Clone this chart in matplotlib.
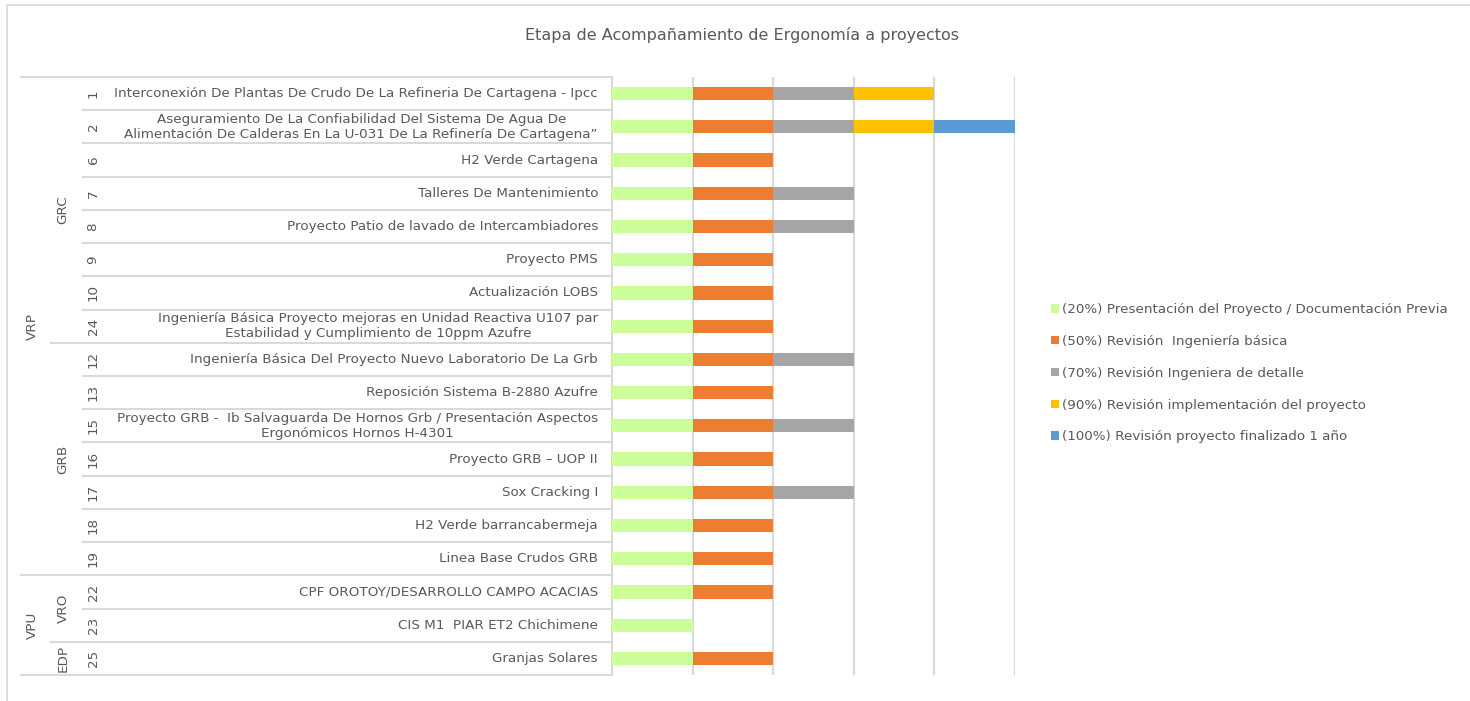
import matplotlib.pyplot as plt
from matplotlib.lines import Line2D
from matplotlib.transforms import blended_transform_factory

# Data
projects = [
    'Interconexión De Plantas De Crudo De La Refineria De Cartagena - Ipcc',
    'Aseguramiento De La Confiabilidad Del Sistema De Agua De\nAlimentación De Calderas En La U-031 De La Refinería De Cartagena”',
    'H2 Verde Cartagena',
    'Talleres De Mantenimiento',
    'Proyecto Patio de lavado de Intercambiadores',
    'Proyecto PMS',
    'Actualización LOBS',
    'Ingeniería Básica Proyecto mejoras en Unidad Reactiva U107 par\nEstabilidad y Cumplimiento de 10ppm Azufre',
    'Ingeniería Básica Del Proyecto Nuevo Laboratorio De La Grb',
    'Reposición Sistema B-2880 Azufre',
    'Proyecto GRB -  Ib Salvaguarda De Hornos Grb / Presentación Aspectos\nErgonómicos Hornos H-4301',
    'Proyecto GRB – UOP II',
    'Sox Cracking I',
    'H2 Verde barrancabermeja',
    'Linea Base Crudos GRB',
    'CPF OROTOY/DESARROLLO CAMPO ACACIAS',
    'CIS M1  PIAR ET2 Chichimene',
    'Granjas Solares',
]
ids = ['1', '2', '6', '7', '8', '9', '10', '24', '12', '13', '15', '16', '17', '18', '19', '22', '23', '25']
areas = ['GRC'] * 8 + ['GRB'] * 7 + ['VRO', 'VRO', 'EDP']
vps = ['VRP'] * 15 + ['VPU'] * 3
stages_reached = [4, 5, 2, 3, 3, 2, 2, 2, 3, 2, 3, 2, 3, 2, 2, 2, 1, 2]

stage_names = [
    '(20%) Presentación del Proyecto / Documentación Previa',
    '(50%) Revisión  Ingeniería básica',
    '(70%) Revisión Ingeniera de detalle',
    '(90%) Revisión implementación del proyecto',
    '(100%) Revisión proyecto finalizado 1 año',
]
stage_colors = ['#CCFF99', '#ED7D31', '#A5A5A5', '#FFC000', '#5B9BD5']

W, H = 1470, 701
txt = '#595959'
grid_c = '#D9D9D9'
plt.rcParams['font.family'] = ['DejaVu Sans']

fig = plt.figure(figsize=(W / 100, H / 100), dpi=100)


def fx(px):
    return px / W


def fy(py):
    return 1 - py / H


# chart border: only the left and top edges fall inside the picture
fig.add_artist(Line2D([fx(7.5), fx(7.5), 1.02], [-0.02, fy(4.5), fy(4.5)],
                      transform=fig.transFigure, color=grid_c, lw=1.2))

left, right, top, bottom = 612, 1015, 77, 675
ax = fig.add_axes([fx(left), fy(bottom), (right - left) / W, (bottom - top) / H])

n = len(projects)
ypos = list(range(n))
handles = []
for k, (name, col) in enumerate(zip(stage_names, stage_colors)):
    ys = [y for y, s in zip(ypos, stages_reached) if s > k]
    h = ax.barh(ys, [1] * len(ys), left=k, height=0.4, color=col, label=name, zorder=3)
    handles.append(h)

ax.set_xlim(0, 5)
ax.set_ylim(n - 0.5, -0.5)
ax.set_xticks([])
ax.set_yticks([])
for s in ['top', 'right', 'bottom']:
    ax.spines[s].set_visible(False)
ax.spines['left'].set_color(grid_c)
ax.spines['left'].set_linewidth(1.5)
for gx in range(1, 6):
    ax.axvline(gx, color=grid_c, lw=1.5, zorder=1)

# multi-level category axis
tr = blended_transform_factory(fig.transFigure, ax.transData)
for i in range(n + 1):
    yb = i - 0.5
    if i == 0 or i == n or vps[i] != vps[i - 1]:
        x0 = 21
    elif areas[i] != areas[i - 1]:
        x0 = 51
    else:
        x0 = 83
    ax.add_line(Line2D([fx(x0), fx(left)], [yb, yb], transform=tr, color=grid_c, lw=1.5, clip_on=False))

for y, (pid, name) in enumerate(zip(ids, projects)):
    ax.text(fx(598), y, name, transform=tr, ha='right', va='center', multialignment='center',
            fontsize=9.7, color=txt, linespacing=1.25)
    ax.text(fx(93), y, pid, transform=tr, ha='center', va='center', rotation=90,
            fontsize=9.7, color=txt)


def groups(labels):
    out = []
    start = 0
    for i in range(1, len(labels) + 1):
        if i == len(labels) or labels[i] != labels[start]:
            out.append((labels[start], (start + i - 1) / 2))
            start = i
    return out


for lab, yc in groups(areas):
    ax.text(fx(63), yc, lab, transform=tr, ha='center', va='center', rotation=90, fontsize=9.7, color=txt)
for lab, yc in groups(vps):
    ax.text(fx(32), yc, lab, transform=tr, ha='center', va='center', rotation=90, fontsize=9.7, color=txt)

fig.text(fx(742), fy(35), 'Etapa de Acompañamiento de Ergonomía a proyectos',
         ha='center', va='center', fontsize=11.5, color=txt)

fig.legend(handles=handles, loc='upper left', bbox_to_anchor=(fx(1051), fy(303)),
           frameon=False, fontsize=9.7, labelcolor=txt, handlelength=0.6, handleheight=0.6,
           handletextpad=0.25, labelspacing=1.4, borderaxespad=0, borderpad=0)

fig.savefig('out.png', dpi=100)
